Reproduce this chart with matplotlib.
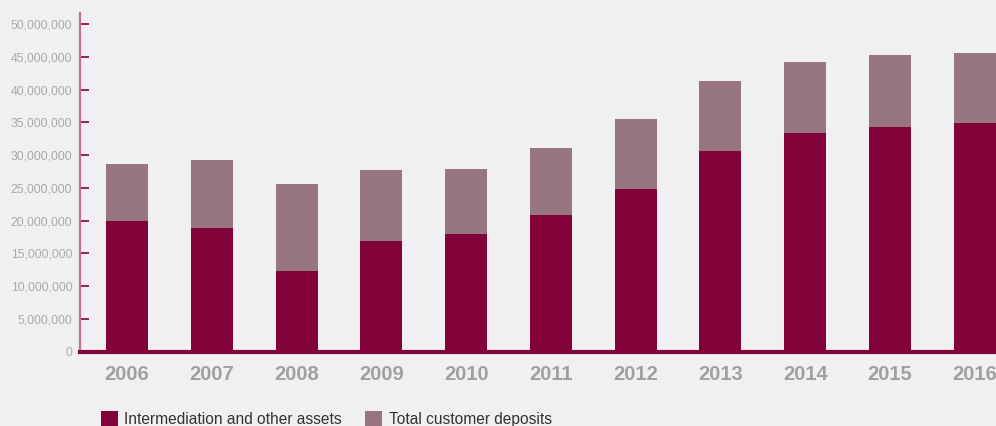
import matplotlib
matplotlib.use('Agg')
import matplotlib.pyplot as plt
from matplotlib.ticker import FuncFormatter
import numpy as np

plt.rcParams['font.family'] = ['Liberation Sans', 'DejaVu Sans']

years = ['2006', '2007', '2008', '2009', '2010', '2011', '2012', '2013', '2014', '2015', '2016']
# millions
intermediation = [19.9, 18.9, 12.3, 16.9, 17.9, 20.8, 24.8, 30.6, 33.4, 34.3, 34.9]
deposits = [8.7, 10.3, 13.3, 10.8, 10.0, 10.3, 10.7, 10.7, 10.8, 11.0, 10.7]

dark = '#82023a'
light = '#987680'
bg = '#f0f0f2'

inter = np.array(intermediation) * 1e6
depo = np.array(deposits) * 1e6
x = np.arange(len(years))

fig = plt.figure(figsize=(9.96, 4.26), dpi=100, facecolor=bg)
ax = fig.add_axes([80 / 996, (426 - 351.5) / 426, 916 / 996, (351.5 - 13) / 426])
ax.set_facecolor(bg)

b1 = ax.bar(x, inter, width=0.495, color=dark, label='Intermediation and other assets')
b2 = ax.bar(x, depo, width=0.495, bottom=inter, color=light, label='Total customer deposits')

ax.set_xlim(-0.554, 10.25)
ax.set_ylim(0, 51.7e6)
ax.set_yticks(np.arange(0, 50e6 + 1, 5e6))
ax.yaxis.set_major_formatter(FuncFormatter(lambda v, p: '{:,.0f}'.format(v)))
ax.set_xticks(x)
ax.set_xticklabels(years)

for s in ['top', 'right']:
    ax.spines[s].set_visible(False)
ax.spines['left'].set_color('#c46e93')
ax.spines['left'].set_linewidth(1.6)
ax.spines['bottom'].set_color(dark)
ax.spines['bottom'].set_linewidth(3)
ax.spines['bottom'].set_zorder(5)

ax.tick_params(axis='y', direction='in', length=6.5, width=1.2, color=dark,
               labelcolor='#aaaaaa', labelsize=8.8, pad=5.5)
ax.tick_params(axis='x', length=0, labelcolor='#a0a0a0', labelsize=14.5, pad=9.5)
for t in ax.get_xticklabels():
    t.set_fontweight('bold')

fig.legend(handles=[b1, b2], loc='upper left', bbox_to_anchor=(101 / 996, 1 - 411 / 426),
           ncol=2, frameon=False, fontsize=11.2, handlelength=1.09, handleheight=1.09,
           handletextpad=0.42, columnspacing=1.5, borderpad=0, borderaxespad=0,
           labelcolor='#333333')

fig.savefig('out.png', dpi=100, facecolor=bg)
